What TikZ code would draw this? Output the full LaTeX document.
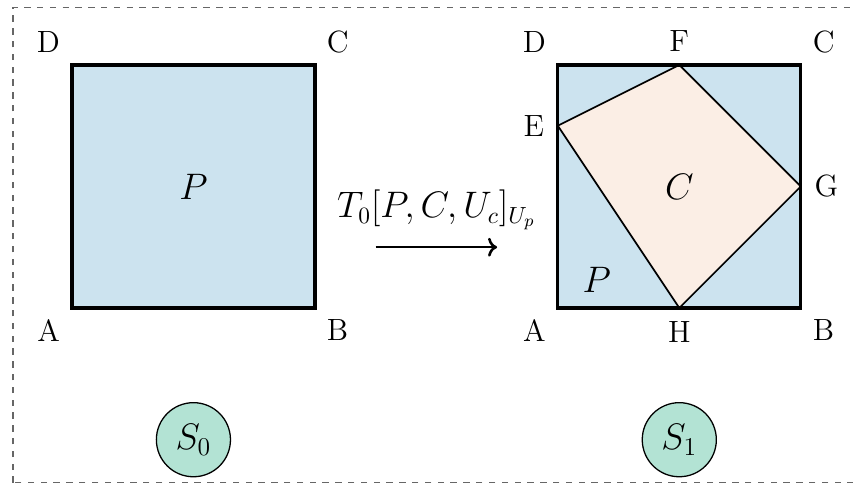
\documentclass[tikz,border=0pt]{standalone}
\usepackage{amsmath,amssymb}
\usepackage{xcolor}
\usepackage{tikz}
\usetikzlibrary{positioning,arrows.meta,calc}
\definecolor{plate}{HTML}{CCE3EF}
\definecolor{cutout}{HTML}{FBEEE5}
\definecolor{statefill}{HTML}{B3E3D4}

\begin{document}
\begin{tikzpicture}[semithick,node distance=1mm,
   corner/.style={font=\Large},
   region/.style={fill=plate,draw=black,line width=1.5pt},
   piece/.style={fill=cutout,draw=black,thick},
   snapshot/.style={circle,draw=black,fill=statefill,minimum size=12.2mm,inner sep=0pt,font=\LARGE}]
  \useasboundingbox (-1.185,-2.95) rectangle (12.86,5.07);
  \draw[black!60,line width=0.6pt,dashed] (-0.97,-2.88) rectangle (13.2,4.95);
  % state S0: the whole plate
  \coordinate (A0) at (0,0);
  \coordinate (B0) at (4,0);
  \coordinate (C0) at (4,4);
  \coordinate (D0) at (0,4);
  \draw[region] (A0) -- (B0) -- (C0) -- (D0) -- cycle;
  \node[corner,below left=of A0]  (lA0) {A};
  \node[corner,below right=of B0] (lB0) {B};
  \node[corner,above right=of C0] (lC0) {C};
  \node[corner,above left=of D0]  (lD0) {D};
  \node[font=\LARGE] (P0) at (2,2) {$P$};
  % state S1: plate with the cut piece
  \coordinate (A1) at (8,0);
  \coordinate (B1) at (12,0);
  \coordinate (C1) at (12,4);
  \coordinate (D1) at (8,4);
  \coordinate (E1) at (8,3);
  \coordinate (F1) at (10,4);
  \coordinate (G1) at (12,2);
  \coordinate (H1) at (10,0);
  \fill[plate] (A1) rectangle (C1);
  \draw[piece] (E1) -- (F1) -- (G1) -- (H1) -- cycle;
  \draw[region,fill=none] (A1) -- (B1) -- (C1) -- (D1) -- cycle;
  \node[corner,below left=of A1]  (lA1) {A};
  \node[corner,below right=of B1] (lB1) {B};
  \node[corner,above right=of C1] (lC1) {C};
  \node[corner,above left=of D1]  (lD1) {D};
  \node[corner,left=of E1]        (lE1) {E};
  \node[corner,above=of F1]       (lF1) {F};
  \node[corner,right=of G1]       (lG1) {G};
  \node[corner,below=of H1]       (lH1) {H};
  \node[font=\LARGE] (C1c) at (10,2) {$C$};
  \node[font=\LARGE] (P1) at (8.64,0.46) {$P$};
  % transition
  \coordinate (t0) at (5,1);
  \coordinate (t1) at (7,1);
  \draw[->,line width=1.2pt] (t0) -- node[above=4pt,font=\fontsize{16}{19}\selectfont] {$T_0[P,C,U_c]_{U_p}$} (t1);
  % states
  \node[snapshot] (s0) at (2,-2.17) {$S_0$};
  \node[snapshot] (s1) at (10,-2.17) {$S_1$};
\end{tikzpicture}
\end{document}
